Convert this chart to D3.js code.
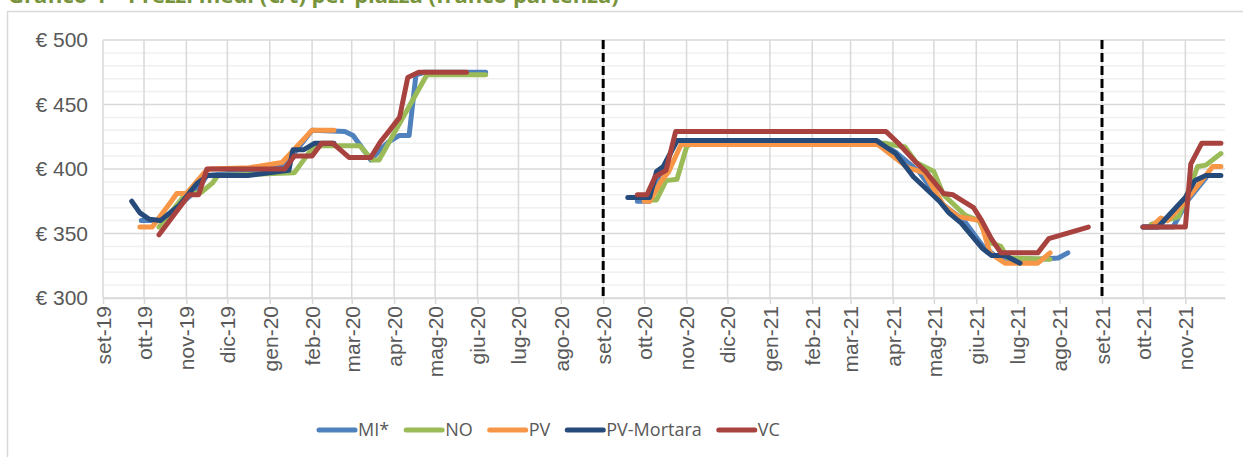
<!DOCTYPE html>
<html>
<head>
<meta charset="utf-8">
<script src="https://cdn.jsdelivr.net/npm/d3@7"></script>
<style>
  body { margin: 0; background: #fff; }
  svg { font-family: "Open Sans", "Noto Sans", sans-serif; }
</style>
</head>
<body>
<div id="container-chart"></div>
<script>
// month names used for the tick labels (set-19, ott-19 ...)
const monthNames = ["gen", "feb", "mar", "apr", "mag", "giu", "lug", "ago", "set", "ott", "nov", "dic"];
const yTicks = [300, 350, 400, 450, 500];
const yMinor = [310, 320, 330, 340, 360, 370, 380, 390, 410, 420, 430, 440, 460, 470, 480, 490];
const seasonBreaks = ["2020-09-01", "2021-09-01"];
const seriesNames = ["MI*", "NO", "PV", "PV-Mortara", "VC"];
const seriesColors = ["#4F81BD", "#9BBB59", "#F79646", "#264B7A", "#A8423F"];

// weekly prices, €/t  (null = gap between seasons)
const miData = [
  ["2019-09-29", 360], ["2019-10-13", 360], ["2019-10-27", 372], ["2019-11-10", 385], ["2019-11-16", 395],
  ["2019-12-17", 398], ["2020-01-12", 403], ["2020-02-01", 430], ["2020-02-25", 429], ["2020-03-02", 426],
  ["2020-03-15", 407], ["2020-03-22", 415], ["2020-03-28", 421], ["2020-04-05", 426], ["2020-04-12", 426],
  ["2020-04-17", 473], ["2020-04-23", 475], ["2020-06-07", 475],
  ["2020-07-01", null],
  ["2020-09-26", 375], ["2020-10-05", 375], ["2020-10-12", 395], ["2020-10-25", 422], ["2021-03-20", 422],
  ["2021-04-03", 413], ["2021-04-20", 398], ["2021-05-08", 372], ["2021-05-23", 360], ["2021-06-06", 340],
  ["2021-06-17", 331], ["2021-07-16", 330], ["2021-07-31", 331], ["2021-08-07", 335],
  ["2021-09-01", null],
  ["2021-10-01", 355], ["2021-10-23", 355], ["2021-11-03", 376], ["2021-11-16", 393]
];
const noData = [
  ["2019-10-12", 355], ["2019-10-31", 380], ["2019-11-12", 382], ["2019-11-20", 389], ["2019-11-24", 395],
  ["2020-01-19", 397], ["2020-02-01", 416], ["2020-02-05", 418], ["2020-03-07", 418], ["2020-03-16", 407],
  ["2020-03-21", 407], ["2020-04-25", 473], ["2020-06-07", 473],
  ["2020-07-01", null],
  ["2020-10-06", 376], ["2020-10-10", 376], ["2020-10-17", 391], ["2020-10-25", 392], ["2020-11-01", 417],
  ["2020-11-04", 420], ["2021-03-26", 420], ["2021-04-10", 417], ["2021-04-18", 405], ["2021-05-01", 398],
  ["2021-05-08", 380], ["2021-05-24", 364], ["2021-06-03", 360], ["2021-06-11", 343], ["2021-06-19", 340],
  ["2021-06-24", 331], ["2021-07-25", 330],
  ["2021-09-01", null],
  ["2021-10-07", 357], ["2021-10-27", 363], ["2021-11-10", 402], ["2021-11-16", 403], ["2021-11-27", 412]
];
const pvData = [
  ["2019-09-28", 355], ["2019-10-07", 355], ["2019-10-21", 375], ["2019-10-25", 381], ["2019-11-01", 381],
  ["2019-11-14", 397], ["2019-11-18", 400], ["2019-12-17", 401], ["2020-01-10", 405], ["2020-02-01", 430],
  ["2020-02-17", 430],
  ["2020-07-01", null],
  ["2020-10-01", 375], ["2020-10-05", 375], ["2020-10-13", 390], ["2020-10-19", 398], ["2020-10-28", 419],
  ["2021-03-21", 419], ["2021-04-12", 401], ["2021-04-24", 397], ["2021-05-08", 372], ["2021-05-19", 363],
  ["2021-06-04", 360], ["2021-06-11", 335], ["2021-06-22", 327], ["2021-07-16", 327], ["2021-07-25", 335],
  ["2021-09-01", null],
  ["2021-10-07", 355], ["2021-10-14", 362], ["2021-10-19", 360], ["2021-11-01", 375], ["2021-11-16", 395],
  ["2021-11-21", 402], ["2021-11-27", 402]
];
const pvMortaraData = [
  ["2019-09-22", 375], ["2019-09-28", 366], ["2019-10-05", 361], ["2019-10-13", 360], ["2019-10-27", 372],
  ["2019-11-09", 389], ["2019-11-13", 392], ["2019-11-16", 395], ["2019-12-16", 395], ["2020-01-15", 399],
  ["2020-01-18", 415], ["2020-01-26", 415], ["2020-02-03", 420], ["2020-02-17", 420],
  ["2020-07-01", null],
  ["2020-09-19", 378], ["2020-10-05", 378], ["2020-10-10", 398], ["2020-10-15", 402], ["2020-10-25", 422],
  ["2021-03-20", 422], ["2021-04-03", 412], ["2021-04-16", 394], ["2021-05-05", 375], ["2021-05-12", 366],
  ["2021-05-21", 358], ["2021-06-05", 339], ["2021-06-12", 333], ["2021-06-22", 333], ["2021-07-03", 327],
  ["2021-09-01", null],
  ["2021-10-01", 355], ["2021-10-12", 355], ["2021-10-25", 370], ["2021-11-01", 378], ["2021-11-08", 391],
  ["2021-11-16", 395], ["2021-11-27", 395]
];
const vcData = [
  ["2019-10-12", 349], ["2019-11-03", 380], ["2019-11-10", 380], ["2019-11-16", 400], ["2020-01-12", 400],
  ["2020-01-19", 410], ["2020-02-01", 410], ["2020-02-08", 420], ["2020-02-16", 420], ["2020-02-28", 409],
  ["2020-03-15", 409], ["2020-03-22", 421], ["2020-03-28", 429], ["2020-04-05", 440], ["2020-04-11", 471],
  ["2020-04-19", 475], ["2020-05-24", 475],
  ["2020-07-01", null],
  ["2020-09-26", 380], ["2020-10-03", 380], ["2020-10-09", 394], ["2020-10-17", 399], ["2020-10-24", 429],
  ["2021-03-27", 429], ["2021-04-05", 420], ["2021-04-18", 405], ["2021-04-25", 398], ["2021-05-08", 381],
  ["2021-05-15", 380], ["2021-05-30", 370], ["2021-06-05", 360], ["2021-06-12", 346], ["2021-06-19", 335],
  ["2021-07-16", 335], ["2021-07-24", 346], ["2021-08-22", 355],
  ["2021-09-01", null],
  ["2021-10-01", 355], ["2021-11-01", 355], ["2021-11-05", 404], ["2021-11-13", 420], ["2021-11-27", 420]
];
const allSeries = [miData, noData, pvData, pvMortaraData, vcData];

const parseDate = d3.timeParse("%Y-%m-%d");
const W = 1243, H = 457;
const plot = {left: 103, right: 1225, top: 40, bottom: 298};

const svg = d3.select("#container-chart")
  .append("svg")
  .attr("width", W)
  .attr("height", H);

svg.append("rect").attr("width", W).attr("height", H).attr("fill", "#fff");

// chart frame (top/left visible only)
svg.append("rect")
  .attr("x", 7.5).attr("y", 11.5)
  .attr("width", W + 20).attr("height", H + 20)
  .attr("fill", "none").attr("stroke", "#D9D9D9").attr("stroke-width", 1.5);

// title, cut off at the top of the picture like in the source
svg.append("text")
  .attr("x", 8).attr("y", 3)
  .attr("fill", "#77933C")
  .attr("font-weight", "bold")
  .attr("font-size", 22)
  .text("Grafico 4 – Prezzi medi (€/t) per piazza (franco partenza)");

const x = d3.scaleTime()
  .domain([parseDate("2019-09-01"), parseDate("2021-11-30")])
  .range([plot.left, plot.right]);

const y = d3.scaleLinear()
  .domain([300, 500])
  .range([plot.bottom, plot.top]);

const months = d3.timeMonth.range(parseDate("2019-09-01"), parseDate("2021-11-30"));
const fmtMonth = d => monthNames[d.getMonth()] + "-" + String(d.getFullYear()).slice(2);

// minor horizontal gridlines
svg.append("g")
  .selectAll("line")
  .data(yMinor)
  .join("line")
  .attr("x1", plot.left).attr("x2", plot.right)
  .attr("y1", d => y(d)).attr("y2", d => y(d))
  .attr("stroke", "#F0F0F0").attr("stroke-width", 1.5);

// major horizontal gridlines
svg.append("g")
  .selectAll("line")
  .data(yTicks)
  .join("line")
  .attr("x1", plot.left).attr("x2", plot.right)
  .attr("y1", d => y(d)).attr("y2", d => y(d))
  .attr("stroke", "#D9D9D9").attr("stroke-width", 1.5);

// vertical month gridlines
svg.append("g")
  .selectAll("line")
  .data(months)
  .join("line")
  .attr("x1", d => x(d)).attr("x2", d => x(d))
  .attr("y1", plot.top).attr("y2", plot.bottom)
  .attr("stroke", "#D9D9D9").attr("stroke-width", 1.5);

// x axis
const xAxis = svg.append("g")
  .attr("transform", "translate(0," + plot.bottom + ")")
  .call(d3.axisBottom(x).tickValues(months).tickFormat(fmtMonth).tickSize(6).tickSizeOuter(0));
xAxis.select(".domain").attr("stroke", "#D9D9D9").attr("stroke-width", 1.5);
xAxis.selectAll(".tick line").attr("stroke", "#D9D9D9").attr("stroke-width", 1.5);
xAxis.selectAll(".tick text")
  .attr("fill", "#595959")
  .attr("font-size", 21)
  .attr("text-anchor", "end")
  .attr("transform", "rotate(-90)")
  .attr("x", -8).attr("y", 0).attr("dy", "0.35em");

// y axis
const yAxis = svg.append("g")
  .attr("transform", "translate(" + plot.left + ",0)")
  .call(d3.axisLeft(y).tickValues(yTicks).tickFormat(d => "€ " + d).tickSize(0).tickPadding(15));
yAxis.select(".domain").remove();
yAxis.selectAll(".tick text").attr("fill", "#595959").attr("font-size", 21);

// dashed season separators
svg.append("g")
  .selectAll("line")
  .data(seasonBreaks)
  .join("line")
  .attr("x1", d => x(parseDate(d))).attr("x2", d => x(parseDate(d)))
  .attr("y1", plot.top).attr("y2", plot.bottom)
  .attr("stroke", "#000").attr("stroke-width", 3)
  .attr("stroke-dasharray", "9,4");

// series lines
const line = d3.line()
  .defined(d => d[1] !== null)
  .x(d => x(parseDate(d[0])))
  .y(d => y(d[1]));

allSeries.forEach((s, i) => {
  svg.append("path")
    .datum(s)
    .attr("fill", "none")
    .attr("stroke", seriesColors[i])
    .attr("stroke-width", 5)
    .attr("stroke-linejoin", "round")
    .attr("stroke-linecap", "round")
    .attr("d", line);
});

// legend
const legend = svg.append("g").attr("transform", "translate(0,430)");
let lx = 319;
seriesNames.forEach((name, i) => {
  legend.append("line")
    .attr("x1", lx).attr("x2", lx + 36)
    .attr("y1", 0).attr("y2", 0)
    .attr("stroke", seriesColors[i]).attr("stroke-width", 5)
    .attr("stroke-linecap", "round");
  const t = legend.append("text")
    .attr("x", lx + 39).attr("y", 0).attr("dy", "0.36em")
    .attr("fill", "#595959").attr("font-size", 18)
    .text(name);
  lx += 39 + t.node().getComputedTextLength() + 17;
});
</script>
</body>
</html>
